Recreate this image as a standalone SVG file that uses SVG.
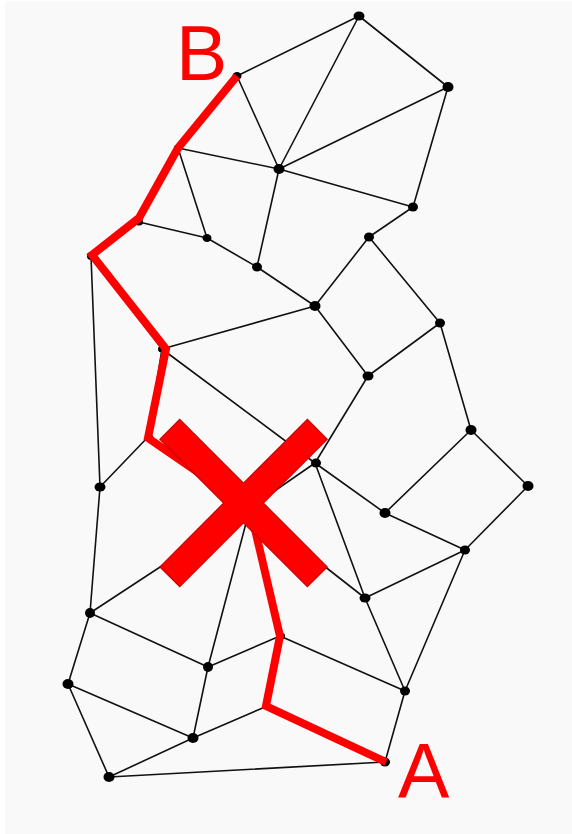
<svg xmlns="http://www.w3.org/2000/svg" width="572" height="834" viewBox="0 0 572 834">
<style>
.e{stroke:#111;stroke-width:1.6;fill:none;stroke-linecap:round}
.n{fill:#000}
.path{stroke:#f00;stroke-width:8;fill:none;stroke-linejoin:miter;stroke-linecap:butt}
.lbl{font-family:"Liberation Sans",Arial,sans-serif;font-size:77px;fill:#f00}
</style>
<rect x="0" y="0" width="572" height="834" fill="#fff"/>
<rect x="5" y="1" width="567" height="833" fill="#f9f9f9"/>
<g id="connectors">
<line class="e" x1="237" y1="76" x2="359" y2="16"/>
<line class="e" x1="359" y1="16" x2="448" y2="87"/>
<line class="e" x1="359" y1="16" x2="279" y2="169"/>
<line class="e" x1="448" y1="87" x2="279" y2="169"/>
<line class="e" x1="448" y1="87" x2="413" y2="207"/>
<line class="e" x1="279" y1="169" x2="413" y2="207"/>
<line class="e" x1="237" y1="76" x2="279" y2="169"/>
<line class="e" x1="237" y1="76" x2="178" y2="148"/>
<line class="e" x1="178" y1="148" x2="279" y2="169"/>
<line class="e" x1="178" y1="148" x2="207" y2="238"/>
<line class="e" x1="178" y1="148" x2="139" y2="222"/>
<line class="e" x1="279" y1="169" x2="257" y2="267"/>
<line class="e" x1="139" y1="222" x2="207" y2="238"/>
<line class="e" x1="139" y1="222" x2="91" y2="256"/>
<line class="e" x1="207" y1="238" x2="257" y2="267"/>
<line class="e" x1="257" y1="267" x2="315" y2="306"/>
<line class="e" x1="413" y1="207" x2="369" y2="237"/>
<line class="e" x1="369" y1="237" x2="315" y2="306"/>
<line class="e" x1="369" y1="237" x2="440" y2="323"/>
<line class="e" x1="315" y1="306" x2="162" y2="349"/>
<line class="e" x1="315" y1="306" x2="368" y2="376"/>
<line class="e" x1="440" y1="323" x2="368" y2="376"/>
<line class="e" x1="440" y1="323" x2="471" y2="430"/>
<line class="e" x1="91" y1="256" x2="162" y2="349"/>
<line class="e" x1="91" y1="256" x2="100" y2="487"/>
<line class="e" x1="162" y1="349" x2="148" y2="437"/>
<line class="e" x1="162" y1="349" x2="315" y2="463"/>
<line class="e" x1="148" y1="437" x2="100" y2="487"/>
<line class="e" x1="368" y1="376" x2="315" y2="463"/>
<line class="e" x1="471" y1="430" x2="528" y2="486"/>
<line class="e" x1="471" y1="430" x2="385" y2="513"/>
<line class="e" x1="528" y1="486" x2="465" y2="550"/>
<line class="e" x1="385" y1="513" x2="465" y2="550"/>
<line class="e" x1="315" y1="463" x2="385" y2="513"/>
<line class="e" x1="315" y1="463" x2="365" y2="598"/>
<line class="e" x1="315" y1="463" x2="250" y2="508"/>
<line class="e" x1="465" y1="550" x2="365" y2="598"/>
<line class="e" x1="465" y1="550" x2="405" y2="691"/>
<line class="e" x1="365" y1="598" x2="405" y2="691"/>
<line class="e" x1="280" y1="636" x2="405" y2="691"/>
<line class="e" x1="405" y1="691" x2="385" y2="762"/>
<line class="e" x1="385" y1="762" x2="109" y2="777"/>
<line class="e" x1="100" y1="487" x2="90" y2="613"/>
<line class="e" x1="90" y1="613" x2="250" y2="508"/>
<line class="e" x1="90" y1="613" x2="208" y2="667"/>
<line class="e" x1="90" y1="613" x2="68" y2="684"/>
<line class="e" x1="208" y1="667" x2="280" y2="636"/>
<line class="e" x1="208" y1="667" x2="250" y2="508"/>
<line class="e" x1="208" y1="667" x2="193" y2="738"/>
<line class="e" x1="68" y1="684" x2="193" y2="738"/>
<line class="e" x1="68" y1="684" x2="109" y2="777"/>
<line class="e" x1="193" y1="738" x2="109" y2="777"/>
<line class="e" x1="193" y1="738" x2="265" y2="707"/>
<line class="e" x1="250" y1="508" x2="365" y2="598"/>
<line class="e" x1="148" y1="437" x2="250" y2="508"/>
<line class="e" x1="250" y1="508" x2="280" y2="636"/>
<line class="e" x1="280" y1="636" x2="265" y2="707"/>
<line class="e" x1="265" y1="707" x2="385" y2="762"/>
</g>
<g id="nodes">
<g id="n1"><ellipse class="n" cx="359" cy="16" rx="5.5" ry="4.5"/></g>
<g id="n2"><ellipse class="n" cx="237" cy="76" rx="4.5" ry="4"/></g>
<g id="n3"><ellipse class="n" cx="448" cy="87" rx="5.5" ry="5"/></g>
<g id="n4"><ellipse class="n" cx="178" cy="148" rx="4" ry="3.5"/></g>
<g id="n5"><ellipse class="n" cx="279" cy="169" rx="5.5" ry="5"/></g>
<g id="n6"><ellipse class="n" cx="413" cy="207" rx="5" ry="4.5"/></g>
<g id="n7"><ellipse class="n" cx="139" cy="222" rx="4" ry="3.5"/></g>
<g id="n8"><ellipse class="n" cx="207" cy="238" rx="4.5" ry="4"/></g>
<g id="n9"><ellipse class="n" cx="369" cy="237" rx="5" ry="4.5"/></g>
<g id="n10"><ellipse class="n" cx="91" cy="256" rx="4" ry="4"/></g>
<g id="n11"><ellipse class="n" cx="257" cy="267" rx="5" ry="4.5"/></g>
<g id="n12"><ellipse class="n" cx="315" cy="306" rx="5.5" ry="5"/></g>
<g id="n13"><ellipse class="n" cx="440" cy="323" rx="5" ry="4.5"/></g>
<g id="n14"><ellipse class="n" cx="162" cy="349" rx="4" ry="3.5"/></g>
<g id="n15"><ellipse class="n" cx="368" cy="376" rx="5.5" ry="4.5"/></g>
<g id="n16"><ellipse class="n" cx="471" cy="430" rx="5.5" ry="5"/></g>
<g id="n17"><ellipse class="n" cx="150" cy="438" rx="3.5" ry="3.5"/></g>
<g id="n18"><ellipse class="n" cx="316" cy="463" rx="5" ry="4.5"/></g>
<g id="n19"><ellipse class="n" cx="100" cy="487" rx="5.5" ry="4.5"/></g>
<g id="n20"><ellipse class="n" cx="528" cy="486" rx="5.5" ry="5"/></g>
<g id="n21"><ellipse class="n" cx="385" cy="513" rx="5.5" ry="5"/></g>
<g id="n22"><ellipse class="n" cx="465" cy="550" rx="5" ry="4.5"/></g>
<g id="n23"><ellipse class="n" cx="365" cy="598" rx="5.5" ry="4.5"/></g>
<g id="n24"><ellipse class="n" cx="90" cy="613" rx="5" ry="5"/></g>
<g id="n25"><ellipse class="n" cx="281" cy="636" rx="4" ry="3.5"/></g>
<g id="n26"><ellipse class="n" cx="208" cy="667" rx="5" ry="5"/></g>
<g id="n27"><ellipse class="n" cx="68" cy="684" rx="5.5" ry="5"/></g>
<g id="n28"><ellipse class="n" cx="405" cy="691" rx="5" ry="4.5"/></g>
<g id="n30"><ellipse class="n" cx="193" cy="738" rx="5.5" ry="5"/></g>
<g id="n31"><ellipse class="n" cx="109" cy="777" rx="5.5" ry="5"/></g>
<g id="n32"><ellipse class="n" cx="385" cy="762" rx="5" ry="4.5"/></g>
</g>
<g id="route">
<polyline class="path" points="237,76 178,148 139,218 92,255 166,349 148,438 250,508 280,636 266,706 386,762"/>
</g>
<g id="cross">
<polygon points="327.2,566.9 263.3,503 327.2,439.2 307.4,419.4 243.5,483.2 179.7,419.4 159.9,439.2 223.7,503 159.9,566.9 179.7,586.7 243.5,522.8 307.4,586.7" fill="#f00" stroke="#c00" stroke-width="1.2" stroke-linejoin="miter"/>
</g>
<g id="labels">
<text class="lbl" x="176" y="80">B</text>
<text class="lbl" x="398" y="798">A</text>
</g>
</svg>
